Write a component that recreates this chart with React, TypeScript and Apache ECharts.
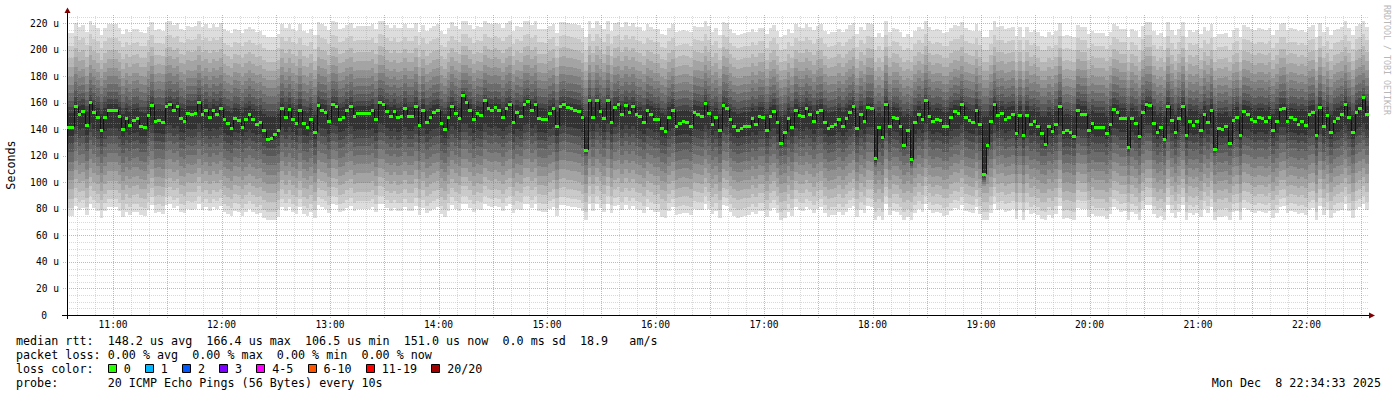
import React, { useEffect, useRef } from 'react';
import * as echarts from 'echarts';

// time range (seconds of day): 10:34:33 -> 22:34:33
const START = 38073;
const END = 81273;
const Y_MAX = 226.4;

// median rtt per step (microseconds)
const MEDIAN_1 = [
  141.6, 141.6, 157.0, 151.0, 153.5, 143.0, 160.0, 153.0, 149.0, 139.0,
  149.0, 154.7, 154.7, 154.7, 149.7, 140.0, 148.0, 143.0, 147.0, 148.0,
  142.6, 141.6, 150.4, 158.2, 146.0, 147.0, 145.0, 157.7, 159.0, 154.2,
  157.2, 148.2, 146.2, 152.2, 151.0, 152.2, 160.5, 151.0, 154.7, 149.0,
  154.7, 151.4, 156.2, 147.2, 144.2, 140.9, 148.4, 146.9, 141.6, 147.7,
  151.4, 147.2, 143.7, 145.4, 139.1, 132.3, 133.1, 136.0, 139.4, 155.7,
  148.9, 155.2, 147.7, 144.4, 154.7, 144.2, 141.6, 147.7, 138.1, 158.0,
  154.5, 152.7, 145.7, 159.2, 157.7, 147.7, 149.2, 154.2, 157.0, 149.7,
  151.7, 151.7, 151.7, 151.7, 154.7, 147.2, 160.3, 159.0, 153.5, 149.7,
  153.5, 148.7,
];
const MEDIAN_2 = [
  149.7, 155.5, 149.7, 149.7, 157.0, 142.9, 154.2, 145.2, 149.0, 152.7,
  154.7, 144.2, 139.9, 149.2, 157.7, 151.7, 148.4, 166.0, 160.5, 154.2,
  147.2, 151.7, 150.2, 161.5, 156.0, 154.5, 156.7, 154.5, 149.0, 156.0,
  159.0, 145.4, 152.5, 150.0, 159.2, 161.3, 154.2, 159.2, 148.4, 147.7,
  147.2, 152.0, 155.5, 142.1, 157.7, 158.5, 156.5, 155.7, 154.7, 153.2,
  148.7, 124.5, 161.5, 149.2, 161.5, 153.7, 148.2, 161.5, 145.4, 156.5,
  158.5, 151.2, 158.2, 152.7, 157.0, 151.4, 150.0, 145.2, 154.7, 151.2,
  147.7, 147.9, 140.6, 138.6, 149.2, 154.7, 142.4, 144.2, 145.7, 145.2,
  142.6, 152.5, 151.2, 150.0, 159.5, 151.7, 143.7, 149.0, 139.1, 158.2,
];
const MEDIAN_3 = [
  156.0, 147.2, 141.9, 139.1, 140.4, 142.1, 142.4, 148.2, 143.7, 149.7,
  149.4, 139.6, 149.7, 153.5, 145.4, 129.5, 137.9, 148.2, 141.4, 154.5,
  150.2, 149.7, 155.5, 151.4, 145.7, 152.5, 154.7, 145.4, 140.6, 142.4,
  143.4, 147.9, 142.4, 148.2, 153.0, 157.2, 140.4, 151.0, 145.7, 156.5,
  155.5, 118.0, 141.6, 133.8, 159.0, 142.4, 149.2, 148.2, 142.6, 127.8,
  139.6, 117.0, 145.4, 151.4, 147.2, 161.5, 150.0, 145.7, 147.9, 146.7,
  142.1, 142.6, 149.0, 153.2, 152.0, 158.5, 149.2, 146.9, 145.4, 154.7,
  143.9, 106.4, 127.6, 145.7, 159.0, 150.4, 151.7, 147.2, 149.2, 151.4,
  136.6, 150.7, 135.8, 150.7, 143.7, 146.2, 142.4, 136.6, 128.3, 142.6,
  138.6,
];
const MEDIAN_4 = [
  143.9, 157.2, 137.6, 139.1, 137.6, 134.8, 154.0, 151.4, 151.4, 139.4,
  144.7, 141.4, 141.4, 141.4, 136.9, 143.7, 155.0, 152.7, 148.2, 148.4,
  126.3, 148.2, 144.2, 134.8, 152.7, 158.5, 158.2, 144.2, 138.1, 141.6,
  132.6, 157.7, 146.7, 138.1, 148.2, 157.7, 135.6, 146.2, 143.2, 145.7,
  139.6, 151.4, 145.2, 154.5, 125.0, 140.4, 139.9, 141.9, 129.3, 146.9,
  149.2, 135.6, 153.2, 151.2, 147.9, 145.7, 148.7, 148.2, 145.7, 149.4,
  139.1, 146.4, 155.2, 156.2, 146.2, 148.7, 147.4, 143.9, 146.4, 143.2,
  151.0, 153.0, 135.8, 156.7, 142.6, 150.2, 138.1, 145.9, 148.4, 151.0,
  159.2, 149.2, 137.9, 152.7, 155.7, 164.0, 151.2,
];
const MEDIAN = [...MEDIAN_1, ...MEDIAN_2, ...MEDIAN_3, ...MEDIAN_4];

// typical sorted ping spread (outer -> inner)
const PROFILE_LOW = [78, 84, 91, 98, 105, 112, 119, 126, 132, 138];
const PROFILE_HIGH = [216, 206, 197, 190, 183, 177, 171, 165, 160, 156];
const PROFILE_CENTER = 148;
const SMOKE_COLORS = ['#dddddd', '#cacaca', '#b7b7b7', '#a4a4a4', '#919191', '#7e7e7e', '#6b6b6b', '#585858', '#454545', '#323232'];

const X_LABELS = ['11:00', '12:00', '13:00', '14:00', '15:00', '16:00', '17:00', '18:00', '19:00', '20:00', '21:00', '22:00'];

const STATS_LINE = 'median rtt:  148.2 us avg  166.4 us max  106.5 us min  151.0 us now  0.0 ms sd  18.9   am/s';
const LOSS_LINE = 'packet loss: 0.00 % avg  0.00 % max  0.00 % min  0.00 % now';
const LOSS_TITLE = 'loss color:';
const LOSS_LABELS = ['0', '1', '2', '3', '4-5', '6-10', '11-19', '20/20'];
const LOSS_COLORS = ['#26ff00', '#00b8ff', '#0059ff', '#7e00ff', '#ff00ff', '#ff5500', '#ff0000', '#a10000'];
const PROBE_LINE = 'probe:       20 ICMP Echo Pings (56 Bytes) every 10s';
const DATE_TEXT = 'Mon Dec  8 22:34:33 2025';
const WATERMARK = 'RRDTOOL / TOBI OETIKER';

const MONO = '"DejaVu Sans Mono", monospace';
const CHAR_W = 7.05;
const LEG_FS = 11.7;
const AXIS_FS = 9.6;

function textEl(x: number, y: number, text: string, fs: number, extra: any = {}) {
  return {
    type: 'text',
    x,
    y,
    silent: true,
    ...extra,
    style: {
      text,
      fill: extra.fill || '#000',
      fontSize: fs,
      fontFamily: MONO,
      align: extra.align || 'left',
      textAlign: extra.align || 'left',
      verticalAlign: 'middle',
      textVerticalAlign: 'middle',
    },
  };
}

function monoLine(line: string, x0: number, y: number) {
  const els: any[] = [];
  const re = /\S+/g;
  let m: RegExpExecArray | null;
  while ((m = re.exec(line))) {
    els.push(textEl(x0 + m.index * CHAR_W, y, m[0], LEG_FS));
  }
  return els;
}

function buildOption() {
  const N = MEDIAN.length;
  const STEP = (END - START) / N;

  const smokeData = MEDIAN.map((m, i) => {
    const t0 = START + i * STEP;
    const row: number[] = [t0, t0 + STEP];
    const shift = Math.max(-6, Math.min(6, (m - PROFILE_CENTER) * 0.5));
    for (let k = 0; k < 10; k++) {
      const lo = Math.min(PROFILE_LOW[k] + shift, m - 1.5 - (9 - k) * 1.5);
      const hi = Math.max(PROFILE_HIGH[k] + shift, m + 1.5 + (9 - k) * 1.5);
      row.push(lo, hi);
    }
    return row;
  });

  const medianData = MEDIAN.map((m, i) => {
    const t0 = START + i * STEP;
    return [t0, t0 + STEP, m, i > 0 ? MEDIAN[i - 1] : m];
  });

  const graphics: any[] = [];
  graphics.push(...monoLine(STATS_LINE, 16, 341));
  graphics.push(...monoLine(LOSS_LINE, 16, 355));
  graphics.push(...monoLine(LOSS_TITLE, 16, 369));
  let bx = 16 + 13 * CHAR_W;
  LOSS_LABELS.forEach((lab, i) => {
    graphics.push({
      type: 'rect',
      silent: true,
      shape: { x: Math.round(bx) + 0.5, y: 364.5, width: 8, height: 8 },
      style: { fill: LOSS_COLORS[i], stroke: '#000', lineWidth: 1 },
    });
    const tx = bx + 16;
    graphics.push(textEl(tx, 369, lab, LEG_FS));
    bx = tx + (lab.length + 2) * CHAR_W;
  });
  graphics.push(...monoLine(PROBE_LINE, 16, 383));
  graphics.push(...monoLine(DATE_TEXT, 1381 - DATE_TEXT.length * CHAR_W, 383));
  graphics.push(textEl(11, 165, 'Seconds', LEG_FS, { rotation: Math.PI / 2, align: 'center' }));
  graphics.push(textEl(1387, 60, WATERMARK, 8.3, { rotation: -Math.PI / 2, align: 'center', fill: '#b8b8b8' }));

  return {
    animation: false,
    backgroundColor: '#ffffff',
    grid: { left: 67, top: 15, width: 1302, height: 300, containLabel: false },
    xAxis: { type: 'value', min: START, max: END, show: false },
    yAxis: {
      type: 'value',
      min: 0,
      max: Y_MAX,
      interval: 20,
      axisLine: { show: false },
      axisTick: { show: false },
      splitLine: { show: false },
      axisLabel: {
        showMaxLabel: false,
        margin: 8,
        color: '#000',
        fontFamily: MONO,
        fontSize: AXIS_FS,
        formatter: (v: number) => (v === 0 ? '{z|0}' : v + ' u'),
        rich: { z: { fontFamily: MONO, fontSize: AXIS_FS, color: '#000', padding: [0, 12, 0, 0] } },
      },
    },
    graphic: { elements: graphics },
    series: [
      {
        type: 'custom',
        silent: true,
        z: 2,
        clip: true,
        data: smokeData,
        renderItem: (params: any, api: any) => {
          const t0 = api.value(0);
          const t1 = api.value(1);
          const x0 = Math.round(api.coord([t0, 0])[0]);
          const x1 = Math.round(api.coord([t1, 0])[0]);
          const children: any[] = [];
          for (let k = 0; k < 10; k++) {
            const yLo = Math.round(api.coord([t0, api.value(2 + 2 * k)])[1]);
            const yHi = Math.round(api.coord([t0, api.value(3 + 2 * k)])[1]);
            children.push({
              type: 'rect',
              shape: { x: x0, y: yHi, width: x1 - x0, height: yLo - yHi },
              style: { fill: SMOKE_COLORS[k] },
            });
          }
          return { type: 'group', children };
        },
      },
      {
        type: 'custom',
        silent: true,
        z: 10,
        clip: false,
        data: [[START]],
        renderItem: (params: any, api: any) => {
          const xL = Math.floor(api.coord([START, 0])[0]);
          const xR = Math.round(api.coord([END, 0])[0]);
          const yB = Math.floor(api.coord([START, 0])[1]);
          const ch: any[] = [];
          const minorStyle = { stroke: 'rgba(165,165,165,0.42)', lineWidth: 1, lineDash: [1, 1] };
          const majorStyle = { stroke: 'rgba(222,80,80,0.5)', lineWidth: 1, lineDash: [1, 1] };
          for (let v = 5; v <= Y_MAX; v += 5) {
            if (v % 20 === 0) continue;
            const y = Math.round(api.coord([START, v])[1]) + 0.5;
            ch.push({ type: 'line', shape: { x1: xL, y1: y, x2: xR, y2: y }, style: minorStyle });
          }
          for (let t = Math.ceil(START / 600) * 600; t <= END; t += 600) {
            if (t % 1800 === 0) continue;
            const x = Math.round(api.coord([t, 0])[0]) + 0.5;
            ch.push({ type: 'line', shape: { x1: x, y1: yB, x2: x, y2: 15 }, style: minorStyle });
          }
          for (let v = 20; v <= Y_MAX; v += 20) {
            const y = Math.round(api.coord([START, v])[1]) + 0.5;
            ch.push({ type: 'line', shape: { x1: xL - 4, y1: y, x2: xR, y2: y }, style: majorStyle });
          }
          for (let t = Math.ceil(START / 1800) * 1800; t <= END; t += 1800) {
            const x = Math.round(api.coord([t, 0])[0]) + 0.5;
            ch.push({ type: 'line', shape: { x1: x, y1: yB + 3, x2: x, y2: 15 }, style: majorStyle });
          }
          X_LABELS.forEach((lab) => {
            const [h, mi] = lab.split(':').map(Number);
            const t = h * 3600 + mi * 60;
            const x = api.coord([t, 0])[0];
            ch.push({
              type: 'text',
              x,
              y: yB + 9,
              style: {
                text: lab,
                fill: '#000',
                fontSize: AXIS_FS,
                fontFamily: MONO,
                align: 'center',
                textAlign: 'center',
                verticalAlign: 'middle',
                textVerticalAlign: 'middle',
              },
            });
          });
          ch.push({ type: 'line', shape: { x1: xL - 5, y1: yB + 0.5, x2: xR + 2, y2: yB + 0.5 }, style: { stroke: '#000', lineWidth: 1 } });
          ch.push({ type: 'line', shape: { x1: xL + 0.5, y1: yB + 4, x2: xL + 0.5, y2: 11 }, style: { stroke: '#000', lineWidth: 1 } });
          ch.push({ type: 'polygon', shape: { points: [[xL - 2.5, 13], [xL + 3.5, 13], [xL + 0.5, 7.5]] }, style: { fill: '#7f0000' } });
          ch.push({ type: 'polygon', shape: { points: [[xR, yB - 2.5], [xR, yB + 3.5], [xR + 6, yB + 0.5]] }, style: { fill: '#7f0000' } });
          return { type: 'group', children: ch };
        },
      },
      {
        type: 'custom',
        silent: true,
        z: 20,
        clip: true,
        data: medianData,
        renderItem: (params: any, api: any) => {
          const t0 = api.value(0);
          const t1 = api.value(1);
          const m = api.value(2);
          const pm = api.value(3);
          const x0 = Math.round(api.coord([t0, m])[0]);
          const x1 = Math.round(api.coord([t1, m])[0]);
          const y = api.coord([t0, m])[1];
          const py = api.coord([t0, pm])[1];
          return {
            type: 'group',
            children: [
              { type: 'line', shape: { x1: x0 + 0.5, y1: Math.round(py), x2: x0 + 0.5, y2: Math.round(y) }, style: { stroke: '#111', lineWidth: 1 } },
              { type: 'rect', shape: { x: x0, y: Math.round(y - 1.5), width: x1 - x0, height: 3 }, style: { fill: '#26ff00' } },
            ],
          };
        },
      },
    ],
  };
}

export default function App() {
  const ref = useRef<HTMLDivElement>(null);
  useEffect(() => {
    if (!ref.current) return;
    const chart = echarts.init(ref.current, undefined, { renderer: 'svg' });
    chart.setOption(buildOption() as any);
    return () => chart.dispose();
  }, []);
  return (
    <div
      ref={ref}
      style={{ position: 'fixed', left: 0, top: 0, width: 1397, height: 397, background: '#fff' }}
    />
  );
}
